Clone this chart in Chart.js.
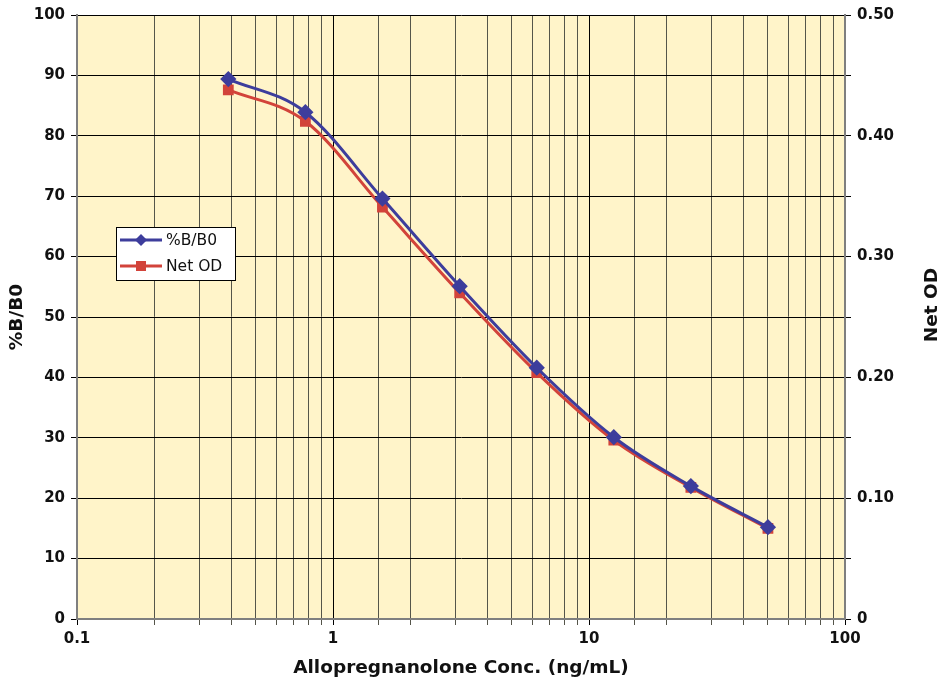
<!DOCTYPE html>
<html>
<head>
<meta charset="utf-8">
<script src="https://cdn.jsdelivr.net/npm/chart.js@4"></script>
<style>
  html, body { margin: 0; padding: 0; background: #fff; }
  #wrap { width: 944px; height: 679px; }
</style>
</head>
<body>
<div id="wrap"><canvas id="chart" width="944" height="679"></canvas></div>
<script>
// concentrations (ng/mL)
const conc = [0.39, 0.78, 1.56, 3.125, 6.25, 12.5, 25, 50];
// %B/B0 (left axis)
const pctB = [89.4, 83.9, 69.6, 55.1, 41.6, 30.1, 22.0, 15.2];
// Net OD (right axis)
const netOD = [0.438, 0.412, 0.341, 0.270, 0.204, 0.148, 0.109, 0.075];

const xTickLabels = ["0.1", "1", "10", "100"];

const FONT = "'DejaVu Sans', sans-serif";

const isDecade = (v) => {
  const l = Math.log10(v);
  return Math.abs(l - Math.round(l)) < 1e-9;
};

// legend box inside the plot + right axis title read bottom-to-top
const extras = {
  id: "extras",
  afterDraw(chart) {
    const ctx = chart.ctx;
    ctx.save();
    // legend
    const bx = 116, by = 227, bw = 119, bh = 53;
    ctx.fillStyle = "#ffffff";
    ctx.fillRect(bx, by, bw, bh);
    ctx.strokeStyle = "#000";
    ctx.lineWidth = 1;
    ctx.strokeRect(bx + 0.5, by + 0.5, bw, bh);
    const rows = [
      { label: "%B/B0", color: "#3d3d9c", shape: "diamond", y: by + 13 },
      { label: "Net OD", color: "#d2433a", shape: "square", y: by + 39 }
    ];
    rows.forEach((r) => {
      ctx.strokeStyle = r.color;
      ctx.lineWidth = 3;
      ctx.beginPath();
      ctx.moveTo(bx + 4, r.y);
      ctx.lineTo(bx + 46, r.y);
      ctx.stroke();
      ctx.fillStyle = r.color;
      const cx = bx + 25;
      if (r.shape === "diamond") {
        ctx.beginPath();
        ctx.moveTo(cx, r.y - 6);
        ctx.lineTo(cx + 6, r.y);
        ctx.lineTo(cx, r.y + 6);
        ctx.lineTo(cx - 6, r.y);
        ctx.closePath();
        ctx.fill();
      } else {
        ctx.fillRect(cx - 5, r.y - 5, 10, 10);
      }
      ctx.fillStyle = "#111";
      ctx.font = "15.5px " + FONT;
      ctx.textBaseline = "middle";
      ctx.textAlign = "left";
      ctx.fillText(r.label, bx + 50, r.y + 1);
    });
    // right title
    ctx.translate(932, 305);
    ctx.rotate(-Math.PI / 2);
    ctx.font = "bold 18.5px " + FONT;
    ctx.fillStyle = "#111";
    ctx.textAlign = "center";
    ctx.textBaseline = "middle";
    ctx.fillText("Net OD", 0, 0);
    ctx.restore();
  }
};

// plot area background
const plotBg = {
  id: "plotBg",
  beforeDraw(chart) {
    const a = chart.chartArea;
    const ctx = chart.ctx;
    ctx.save();
    ctx.fillStyle = "#fff4c9";
    ctx.fillRect(a.left, a.top, a.right - a.left, a.bottom - a.top);
    ctx.restore();
  }
};

new Chart(document.getElementById("chart"), {
  type: "line",
  data: {
    datasets: [
      {
        label: "%B/B0",
        data: conc.map((c, i) => ({ x: c, y: pctB[i] })),
        yAxisID: "y",
        borderColor: "#3d3d9c",
        backgroundColor: "#3d3d9c",
        borderWidth: 3,
        pointStyle: "rectRot",
        pointRadius: 6,
        pointHoverRadius: 6,
        tension: 0.4,
        cubicInterpolationMode: "monotone"
      },
      {
        label: "Net OD",
        data: conc.map((c, i) => ({ x: c, y: netOD[i] })),
        yAxisID: "y2",
        borderColor: "#d2433a",
        backgroundColor: "#d2433a",
        borderWidth: 3,
        pointStyle: "rect",
        pointRadius: 5.5,
        pointHoverRadius: 5.5,
        tension: 0.4,
        cubicInterpolationMode: "monotone"
      }
    ]
  },
  options: {
    responsive: false,
    animation: false,
    layout: { padding: { top: 15, left: 0, right: 0, bottom: 0 } },
    plugins: {
      legend: { display: false },
      tooltip: { enabled: false }
    },
    scales: {
      x: {
        type: "logarithmic",
        min: 0.1,
        max: 100,
        afterFit: (s) => { s.height = 60; },
        border: { color: "#7f7f7f", width: 2 },
        grid: {
          color: (c) => (c.tick && isDecade(c.tick.value) ? "#000" : "#55554a"),
          lineWidth: 1,
          tickLength: 6
        },
        ticks: {
          autoSkip: false,
          maxRotation: 0,
          color: "#111",
          font: { family: FONT, size: 15, weight: "bold" },
          padding: 5,
          callback: function (v) {
            if (!isDecade(v)) return "";
            const i = Math.round(Math.log10(v)) + 1;
            return xTickLabels[i];
          }
        },
        title: {
          display: true,
          text: "Allopregnanolone Conc. (ng/mL)",
          color: "#111",
          font: { family: FONT, size: 18.5, weight: "bold" },
          padding: { top: 2, bottom: 0 }
        }
      },
      y: {
        position: "left",
        min: 0,
        max: 100,
        afterFit: (s) => { s.width = 77; },
        border: { color: "#7f7f7f", width: 2 },
        grid: { color: "#000", lineWidth: 1, tickLength: 6 },
        ticks: {
          stepSize: 10,
          color: "#111",
          font: { family: FONT, size: 15, weight: "bold" },
          padding: 6
        },
        title: {
          display: true,
          text: "%B/B0",
          color: "#111",
          font: { family: FONT, size: 18.5, weight: "bold" },
          padding: { top: 6, bottom: 4 }
        }
      },
      y2: {
        position: "right",
        min: 0,
        max: 0.5,
        afterFit: (s) => { s.width = 99; },
        border: { color: "#7f7f7f", width: 2 },
        grid: { drawOnChartArea: false, color: "#000", tickLength: 6 },
        ticks: {
          stepSize: 0.05,
          autoSkip: false,
          color: "#111",
          font: { family: FONT, size: 15, weight: "bold" },
          padding: 6,
          callback: function (v) {
            const k = Math.round(v * 100);
            if (k % 10 !== 0) return "";
            return k === 0 ? "0" : v.toFixed(2);
          }
        }
      }
    }
  },
  plugins: [plotBg, extras]
});
</script>
</body>
</html>
